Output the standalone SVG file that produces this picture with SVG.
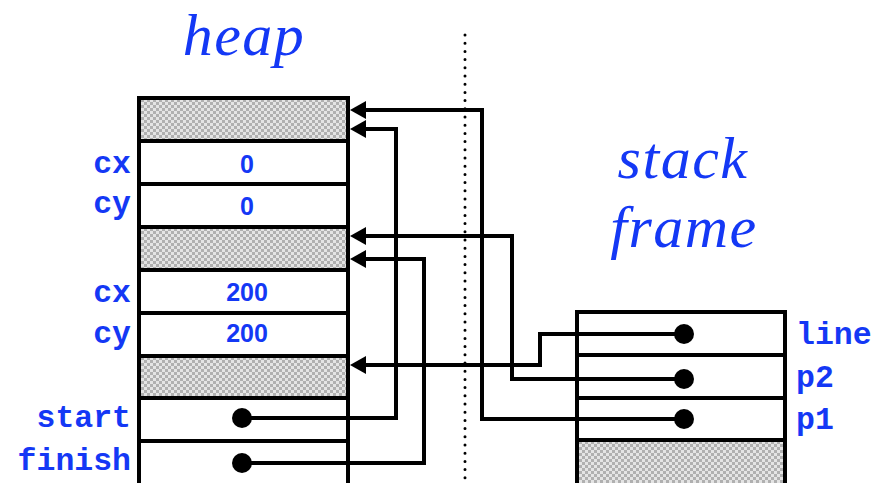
<svg xmlns="http://www.w3.org/2000/svg" width="888" height="483" viewBox="0 0 888 483">
<defs>
<pattern id="chk" width="6" height="6" patternUnits="userSpaceOnUse">
<rect width="6" height="6" fill="#e4e4e4"/>
<rect width="3" height="3" fill="#b0b0b0"/>
<rect x="3" y="3" width="3" height="3" fill="#b0b0b0"/>
</pattern>
<marker id="ah" viewBox="0 0 16 18" refX="8" refY="9" markerWidth="16" markerHeight="18" markerUnits="userSpaceOnUse" orient="auto">
<path d="M0,0 L16,9 L0,18 z" fill="#000"/>
</marker>
</defs>
<style>
.cell{fill:#fff;stroke:#000;stroke-width:4}
.sh{fill:url(#chk);stroke:#000;stroke-width:4}
.title{font-family:"Liberation Serif",serif;font-style:italic;font-size:60px;letter-spacing:1.5px;fill:#1438f5;text-anchor:middle}
.fld{font-family:"Liberation Mono",monospace;font-weight:bold;font-size:31.5px;fill:#1438f5}
.val{font-family:"Liberation Sans",Arial,sans-serif;font-weight:bold;font-size:25px;fill:#1438f5;text-anchor:middle}
.con{fill:none;stroke:#000;stroke-width:4;stroke-linejoin:miter}
.dot{fill:#000}
</style>
<text class="title" x="244" y="55">heap</text>
<text class="title" x="683" y="178">stack</text>
<text class="title" x="684" y="247">frame</text>
<line x1="465" y1="35" x2="465" y2="483" stroke="#000" stroke-width="3" stroke-linecap="round" stroke-dasharray="0 8.2"/>
<g id="heap">
<rect class="sh" x="139" y="98" width="209" height="43"/>
<rect class="cell" x="139" y="141" width="209" height="43"/>
<rect class="cell" x="139" y="184" width="209" height="43"/>
<rect class="sh" x="139" y="227" width="209" height="43"/>
<rect class="cell" x="139" y="270" width="209" height="43"/>
<rect class="cell" x="139" y="313" width="209" height="43"/>
<rect class="sh" x="139" y="356" width="209" height="42"/>
<rect class="cell" x="139" y="398" width="209" height="43"/>
<rect class="cell" x="139" y="441" width="209" height="50"/>
<text class="val" x="247" y="173">0</text>
<text class="val" x="247" y="215">0</text>
<text class="val" x="247" y="301">200</text>
<text class="val" x="247" y="342">200</text>
<g class="fld" text-anchor="end">
<text x="131" y="173">cx</text>
<text x="131" y="213">cy</text>
<text x="131" y="302">cx</text>
<text x="131" y="343">cy</text>
<text x="131" y="427">start</text>
<text x="131" y="470">finish</text>
</g>
</g>
<g id="stack">
<rect class="cell" x="577" y="312" width="208" height="43"/>
<rect class="cell" x="577" y="355" width="208" height="43"/>
<rect class="cell" x="577" y="398" width="208" height="42"/>
<rect class="sh" x="577" y="440" width="208" height="50"/>
<g class="fld">
<text x="796" y="344">line</text>
<text x="796" y="387">p2</text>
<text x="796" y="429">p1</text>
</g>
</g>
<g id="connectors">
<path class="con" d="M684,419 H482 V110 H358" marker-end="url(#ah)"/>
<path class="con" d="M242,418 H396 V129 H358" marker-end="url(#ah)"/>
<path class="con" d="M684,379 H512 V236 H358" marker-end="url(#ah)"/>
<path class="con" d="M242,463 H424 V259 H358" marker-end="url(#ah)"/>
<path class="con" d="M684,334 H540 V365 H358" marker-end="url(#ah)"/>
<circle class="dot" cx="684" cy="334" r="10"/>
<circle class="dot" cx="684" cy="379" r="10"/>
<circle class="dot" cx="684" cy="419" r="10"/>
<circle class="dot" cx="242" cy="418" r="10"/>
<circle class="dot" cx="242" cy="463" r="10"/>
</g>
</svg>
